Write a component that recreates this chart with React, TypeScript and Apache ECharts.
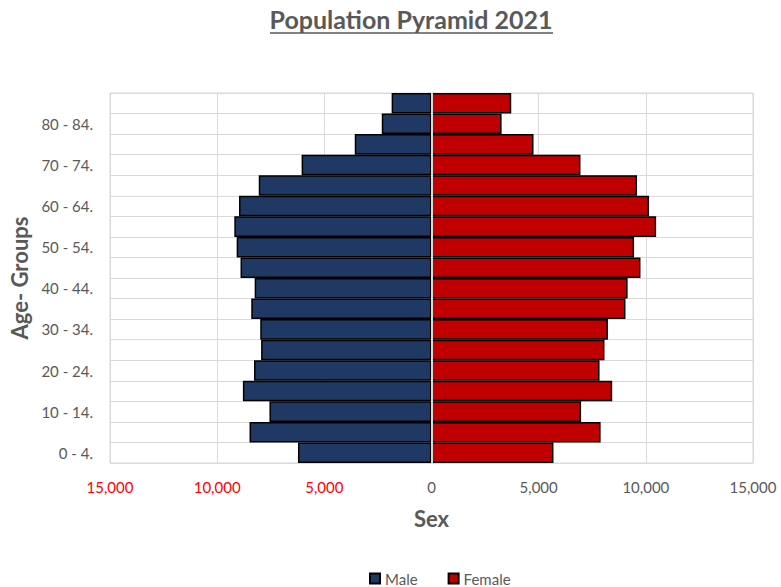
import React, { useEffect, useRef } from "react";
import * as echarts from "echarts";

const ageGroups = [
  "0 - 4.", "5 - 9.", "10 - 14.", "15 - 19.", "20 - 24.", "25 - 29.",
  "30 - 34.", "35 - 39.", "40 - 44.", "45 - 49.", "50 - 54.", "55 - 59.",
  "60 - 64.", "65 - 69.", "70 - 74.", "75 - 79.", "80 - 84.", "85+",
];
const male = [
  6230, 8490, 7560, 8800, 8280, 7950, 7990, 8410, 8250, 8910, 9090, 9200,
  8980, 8060, 6060, 3580, 2320, 1860,
];
const female = [
  5690, 7890, 6980, 8430, 7840, 8070, 8230, 9050, 9150, 9750, 9450, 10480,
  10150, 9590, 6950, 4760, 3270, 3720,
];
const xTicks = { min: -15000, max: 15000, interval: 5000 };

const GRAY = "#595959";
const FONT = "Lato, 'Open Sans', sans-serif";

export default function App() {
  const ref = useRef<HTMLDivElement>(null);
  useEffect(() => {
    if (!ref.current) return;
    const chart = echarts.init(ref.current, null, { renderer: "svg" });
    chart.setOption({
      animation: false,
      backgroundColor: "#ffffff",
      textStyle: { fontFamily: FONT },
      graphic: [
        {
          type: "text",
          x: 411,
          y: 6,
          style: {
            text: "Population Pyramid 2021",
            fontFamily: FONT,
            fontWeight: "bold",
            fontSize: 25,
            fill: GRAY,
            textAlign: "center",
            textVerticalAlign: "top",
          },
        },
        {
          type: "line",
          shape: { x1: 270, y1: 33, x2: 553, y2: 33 },
          style: { stroke: GRAY, lineWidth: 1.5 },
        },
      ],
      legend: {
        data: ["Male", "Female"],
        left: 364,
        top: 566,
        itemWidth: 10,
        itemHeight: 10,
        itemGap: 30,
        icon: "rect",
        textStyle: { color: GRAY, fontSize: 15, fontFamily: FONT },
      },
      grid: {
        left: 110,
        right: 28,
        top: 93,
        bottom: 124,
        show: true,
        borderColor: "#D9D9D9",
        borderWidth: 1,
      },
      xAxis: {
        type: "value",
        min: xTicks.min,
        max: xTicks.max,
        interval: xTicks.interval,
        name: "Sex",
        nameLocation: "middle",
        nameGap: 44,
        nameTextStyle: { color: GRAY, fontSize: 22, fontWeight: "bold", fontFamily: FONT },
        axisLine: { show: false },
        axisTick: { show: false },
        axisLabel: {
          margin: 16,
          fontSize: 15,
          fontFamily: FONT,
          color: (v: any) => (Number(v) < 0 ? "#FF0000" : GRAY),
          formatter: (v: number) => Math.abs(v).toLocaleString("en-US"),
        },
        splitLine: { show: true, lineStyle: { color: "#D9D9D9", width: 1 } },
      },
      yAxis: {
        type: "category",
        data: ageGroups,
        name: "Age- Groups",
        nameLocation: "middle",
        nameGap: 74,
        nameTextStyle: { color: GRAY, fontSize: 22, fontWeight: "bold", fontFamily: FONT },
        axisLine: { show: false },
        axisTick: { show: false },
        axisLabel: { interval: 1, color: GRAY, fontSize: 15, margin: 17, fontFamily: FONT },
        splitLine: { show: true, interval: 0, lineStyle: { color: "#D9D9D9", width: 1 } },
      },
      series: [
        {
          name: "Male",
          type: "bar",
          stack: "pop",
          barCategoryGap: "0%",
          data: male.map((v) => -v),
          itemStyle: { color: "#203864", borderColor: "#000000", borderWidth: 1.5 },
          markLine: {
            silent: true,
            symbol: "none",
            label: { show: false },
            lineStyle: { color: "#D9D9D9", width: 2, type: "solid" },
            data: [{ xAxis: 0 }],
          },
        },
        {
          name: "Female",
          type: "bar",
          stack: "pop",
          barCategoryGap: "0%",
          data: female,
          itemStyle: { color: "#C00000", borderColor: "#000000", borderWidth: 1.5 },
        },
      ],
    });
    return () => chart.dispose();
  }, []);
  return (
    <div
      ref={ref}
      style={{ position: "fixed", left: 0, top: 0, width: 781, height: 587 }}
    />
  );
}
